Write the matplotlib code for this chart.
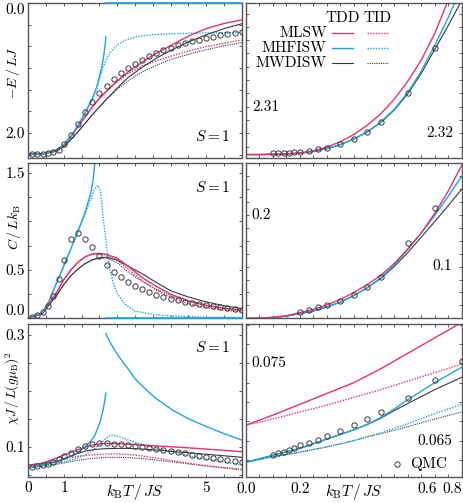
import matplotlib
matplotlib.use('Agg')
import matplotlib.pyplot as plt
from matplotlib.ticker import MultipleLocator, NullFormatter

plt.rcParams['font.family'] = 'serif'
plt.rcParams['font.serif'] = ['cmr10']
plt.rcParams['mathtext.fontset'] = 'cm'
plt.rcParams['axes.formatter.use_mathtext'] = True
plt.rcParams['font.size'] = 11

pink = '#e8336f'
blue = '#1fa6e0'
dark = '#3a3a3a'

# ---------------- left column (0 < T < 6) ----------------
t_left = [0, 0.4, 0.8, 1.0, 1.2, 1.4, 1.6, 1.8, 2.0, 2.2, 2.5, 2.8, 3.2, 3.6, 4.0, 4.5, 5.0, 5.5, 6.0]

# energy
e_mlsw_tdd = [2.325, 2.322, 2.27, 2.19, 2.05, 1.90, 1.75, 1.60, 1.47, 1.355, 1.20, 1.065, 0.91, 0.775, 0.655, 0.51, 0.395, 0.315, 0.26]
e_mlsw_tid = [2.325, 2.322, 2.27, 2.19, 2.05, 1.90, 1.75, 1.60, 1.47, 1.36, 1.21, 1.09, 0.97, 0.89, 0.82, 0.74, 0.67, 0.62, 0.57]
e_mwd_tdd = [2.325, 2.322, 2.28, 2.21, 2.10, 1.98, 1.85, 1.72, 1.60, 1.48, 1.31, 1.15, 0.99, 0.85, 0.73, 0.60, 0.49, 0.395, 0.32]
e_mwd_tid = [2.325, 2.322, 2.28, 2.21, 2.10, 1.98, 1.85, 1.72, 1.60, 1.48, 1.33, 1.20, 1.06, 0.96, 0.87, 0.79, 0.72, 0.66, 0.61]

t_hf_e = [0, 0.4, 0.8, 1.0, 1.2, 1.4, 1.6, 1.8, 1.92, 2.0, 2.06, 2.12, 2.16, 2.18]
e_mhf_tdd = [2.325, 2.322, 2.26, 2.18, 2.05, 1.88, 1.69, 1.47, 1.30, 1.13, 1.0, 0.82, 0.65, 0.52]
t_hf_e_hi = [2.18, 6.0]
e_mhf_tdd_hi = [0.0, 0.0]
t_hf_e_tid = [0, 0.4, 0.8, 1.0, 1.2, 1.4, 1.6, 1.8, 1.92, 2.0, 2.1, 2.2, 2.3, 2.4, 2.5, 2.7, 3.0, 3.4, 4.0, 5.0, 6.0]
e_mhf_tid = [2.325, 2.322, 2.26, 2.18, 2.05, 1.88, 1.69, 1.48, 1.33, 1.17, 0.99, 0.86, 0.77, 0.70, 0.65, 0.58, 0.525, 0.49, 0.475, 0.46, 0.455]

# specific heat
c_mlsw_tdd = [0, 0.05, 0.27, 0.40, 0.50, 0.58, 0.635, 0.665, 0.67, 0.66, 0.62, 0.54, 0.42, 0.33, 0.25, 0.18, 0.135, 0.105, 0.083]
c_mlsw_tid = [0, 0.05, 0.27, 0.40, 0.50, 0.58, 0.635, 0.66, 0.665, 0.65, 0.60, 0.51, 0.39, 0.29, 0.215, 0.15, 0.11, 0.085, 0.065]
c_mwd_tdd = [0, 0.05, 0.24, 0.35, 0.44, 0.51, 0.565, 0.605, 0.625, 0.63, 0.60, 0.54, 0.46, 0.37, 0.285, 0.22, 0.17, 0.13, 0.10]
c_mwd_tid = [0, 0.05, 0.24, 0.35, 0.44, 0.51, 0.565, 0.60, 0.62, 0.62, 0.575, 0.48, 0.38, 0.30, 0.235, 0.175, 0.13, 0.10, 0.077]

t_hf_c = [0, 0.4, 0.6, 0.8, 1.0, 1.2, 1.4, 1.6, 1.75, 1.82, 1.87, 1.92]
c_mhf_tdd = [0, 0.06, 0.19, 0.37, 0.54, 0.72, 0.90, 1.10, 1.28, 1.42, 1.60, 1.85]
t_hf_c_hi = [2.18, 6.0]
c_mhf_tdd_hi = [0.0, 0.0]
t_hf_c_tid = [0, 0.4, 0.6, 0.8, 1.0, 1.2, 1.4, 1.6, 1.75, 1.85, 1.95, 2.02, 2.06, 2.11, 2.2, 2.29, 2.4, 2.5, 2.7, 3.0, 3.5, 4.0, 5.0, 6.0]
c_mhf_tid = [0, 0.06, 0.19, 0.37, 0.54, 0.72, 0.90, 1.08, 1.22, 1.32, 1.37, 1.33, 1.22, 1.02, 0.75, 0.51, 0.35, 0.26, 0.15, 0.075, 0.04, 0.025, 0.012, 0.008]

# susceptibility
x_mlsw_tdd = [0.067, 0.0705, 0.0797, 0.085, 0.09, 0.095, 0.099, 0.103, 0.105, 0.106, 0.1055, 0.1045, 0.103, 0.1015, 0.10, 0.098, 0.0958, 0.0935, 0.091]
x_mlsw_tid = [0.067, 0.0695, 0.0749, 0.078, 0.0805, 0.083, 0.0845, 0.0855, 0.0862, 0.0868, 0.087, 0.0862, 0.0835, 0.0795, 0.0755, 0.0705, 0.066, 0.0625, 0.0592]
x_mwd_tdd = [0.0622, 0.0668, 0.0731, 0.078, 0.083, 0.088, 0.092, 0.0945, 0.0958, 0.0965, 0.097, 0.097, 0.0958, 0.094, 0.0918, 0.0892, 0.0865, 0.0838, 0.081]
x_mwd_tid = [0.0622, 0.0653, 0.0687, 0.071, 0.0735, 0.0757, 0.0775, 0.079, 0.08, 0.0808, 0.081, 0.0805, 0.0788, 0.076, 0.0732, 0.0692, 0.0655, 0.062, 0.0588]

t_hf_x = [0, 0.4, 0.8, 1.0, 1.2, 1.4, 1.55, 1.73, 1.87, 2.01, 2.1, 2.15, 2.18]
x_mhf_tdd = [0.0622, 0.0668, 0.0744, 0.0785, 0.083, 0.09, 0.098, 0.108, 0.12, 0.143, 0.165, 0.182, 0.196]
t_hf_x_hi = [2.18, 2.3, 2.45, 2.6, 2.8, 3.0, 3.3, 3.6, 4.07, 4.54, 5.01, 5.48, 6.0]
x_mhf_tdd_hi = [0.303, 0.287, 0.271, 0.257, 0.24, 0.222, 0.203, 0.186, 0.165, 0.149, 0.136, 0.124, 0.112]
t_hf_x_tid = [0, 0.4, 0.8, 1.0, 1.2, 1.4, 1.6, 1.8, 2.0, 2.2, 2.34, 2.5, 2.67, 3.0, 3.6, 4.0, 4.54, 5.0, 5.48, 6.0]
x_mhf_tid = [0.0622, 0.0653, 0.0696, 0.0725, 0.076, 0.08, 0.085, 0.093, 0.104, 0.116, 0.121, 0.119, 0.115, 0.108, 0.097, 0.0915, 0.0833, 0.078, 0.0731, 0.067]

# QMC (left)
tq_left = [0.1, 0.25, 0.4, 0.55, 0.7, 0.85, 1.0, 1.2, 1.4, 1.6, 1.8, 2.0, 2.2, 2.4, 2.6, 2.8, 3.0, 3.2,
           3.4, 3.6, 3.8, 4.0, 4.2, 4.4, 4.6, 4.8, 5.0, 5.2, 5.4, 5.6, 5.8, 6.0]
e_qmc = [2.325, 2.324, 2.32, 2.312, 2.296, 2.26, 2.17, 2.026, 1.857, 1.683, 1.528, 1.385, 1.272, 1.169, 1.077, 1.006,
         0.938, 0.877, 0.822, 0.769, 0.729, 0.688, 0.652, 0.622, 0.591, 0.565, 0.539, 0.518, 0.498, 0.477, 0.462, 0.452]
c_qmc = [0.01, 0.03, 0.07, 0.13, 0.23, 0.41, 0.60, 0.82, 0.88, 0.82, 0.74, 0.64, 0.555, 0.48, 0.425, 0.37,
         0.333, 0.298, 0.271, 0.244, 0.22, 0.203, 0.185, 0.169, 0.159, 0.144, 0.134, 0.124, 0.114, 0.103, 0.097, 0.09]
x_qmc = [0.0633, 0.0653, 0.0672, 0.0697, 0.073, 0.0775, 0.0825, 0.089, 0.0955, 0.101, 0.1045, 0.106, 0.106, 0.1054,
         0.1048, 0.103, 0.1018, 0.10, 0.098, 0.0963, 0.094, 0.0922, 0.0905, 0.088, 0.0857, 0.0838, 0.082, 0.0797,
         0.0778, 0.076, 0.0743, 0.073]

# ---------------- right column (0 < T < 0.8) ----------------
t_right = [0, 0.05, 0.1, 0.15, 0.2, 0.25, 0.3, 0.35, 0.4, 0.45, 0.5, 0.55, 0.6, 0.65, 0.7, 0.75, 0.8]

er_mlsw = [2.3280, 2.3280, 2.3279, 2.3277, 2.3274, 2.3266, 2.3252, 2.3232, 2.3205, 2.3170, 2.3127, 2.3072, 2.3005, 2.2925, 2.2825, 2.2700, 2.2560]
er_mwd = [2.3280, 2.3280, 2.3279, 2.3278, 2.3275, 2.3269, 2.3258, 2.3243, 2.3222, 2.3195, 2.3160, 2.3113, 2.3052, 2.2975, 2.2885, 2.2795, 2.2700]
er_mhf = [2.3280, 2.3280, 2.3279, 2.3278, 2.3275, 2.3269, 2.3258, 2.3243, 2.3222, 2.3195, 2.3158, 2.3110, 2.3047, 2.2967, 2.2870, 2.2765, 2.2650]

cr_mlsw = [0, 0.0002, 0.002, 0.005, 0.011, 0.017, 0.026, 0.036, 0.05, 0.065, 0.083, 0.106, 0.134, 0.165, 0.203, 0.246, 0.296]
cr_mhf = [0, 0.0002, 0.0015, 0.004, 0.009, 0.014, 0.022, 0.031, 0.044, 0.059, 0.078, 0.103, 0.133, 0.165, 0.199, 0.236, 0.275]
cr_mwd = [0, 0.0002, 0.0015, 0.004, 0.009, 0.014, 0.022, 0.031, 0.044, 0.059, 0.077, 0.10, 0.127, 0.157, 0.187, 0.218, 0.25]

xr_mlsw_tdd = [0.0670, 0.06765, 0.0683, 0.069, 0.0697, 0.0704, 0.0711, 0.0718, 0.0725, 0.0734, 0.0743, 0.0753, 0.0763, 0.0773, 0.0783, 0.0793, 0.0803]
xr_mlsw_tid = [0.0670, 0.0674, 0.0678, 0.06825, 0.0687, 0.06915, 0.0696, 0.0701, 0.0706, 0.0711, 0.0716, 0.07215, 0.0727, 0.07325, 0.0738, 0.07435, 0.0749]
xr_mhf_tdd = [0.0622, 0.06265, 0.0631, 0.06355, 0.0640, 0.0646, 0.0652, 0.0658, 0.0664, 0.0671, 0.0680, 0.0691, 0.0703, 0.0714, 0.0725, 0.0735, 0.0745]
xr_mwd_tdd = [0.0622, 0.06265, 0.0631, 0.06355, 0.0640, 0.0646, 0.0652, 0.0658, 0.0664, 0.0671, 0.0679, 0.0689, 0.0698, 0.0707, 0.0716, 0.0724, 0.0732]
xr_mhf_tid = [0.0622, 0.06255, 0.0629, 0.0632, 0.0635, 0.06385, 0.0642, 0.0646, 0.0650, 0.0655, 0.0660, 0.0666, 0.0672, 0.06785, 0.0685, 0.0691, 0.0697]
xr_mwd_tid = [0.0622, 0.06255, 0.0629, 0.0632, 0.0635, 0.06385, 0.0642, 0.0646, 0.0650, 0.0655, 0.0659, 0.06635, 0.0668, 0.0673, 0.0678, 0.06825, 0.0687]

tq_right = [0.1, 0.12, 0.14, 0.16, 0.18, 0.2, 0.233, 0.267, 0.3, 0.35, 0.4, 0.45, 0.5, 0.6, 0.7]
er_qmc = [2.3275, 2.3275, 2.3274, 2.3273, 2.3271, 2.3269, 2.3265, 2.3260, 2.3254, 2.3240, 2.3220, 2.3194, 2.3159, 2.3050, 2.2880]
tq_c = [0.2, 0.233, 0.267, 0.3, 0.35, 0.4, 0.45, 0.5, 0.6, 0.7]
cr_qmc = [0.012, 0.017, 0.021, 0.025, 0.033, 0.046, 0.061, 0.080, 0.146, 0.214]
tq_x = [0.1, 0.12, 0.14, 0.16, 0.18, 0.2, 0.233, 0.267, 0.3, 0.35, 0.4, 0.45, 0.5, 0.6, 0.7, 0.8]
xr_qmc = [0.06315, 0.06337, 0.06358, 0.0638, 0.06402, 0.06444, 0.06474, 0.06509, 0.06561, 0.06629, 0.06703, 0.0678,
          0.06867, 0.07056, 0.07284, 0.0753]

fig = plt.figure(figsize=(4.63, 5.03), dpi=100)

lx, lw_ = 0.0611, 0.4609
rx, rw = 0.5307, 0.4665
rows = [(0.6859, 0.3082), (0.3672, 0.3082), (0.0517, 0.3042)]

axes = []
for (y0, h) in rows:
    a1 = fig.add_axes([lx, y0, lw_, h])
    a2 = fig.add_axes([rx, y0, rw, h])
    axes.append((a1, a2))

solid = dict(lw=1.0)
dotted = dict(lw=1.0, ls=(0, (1, 1)))
qmc_style = dict(ls='none', marker='o', ms=3.8, mfc='none', mec=dark, mew=0.7, zorder=4)


def style(ax):
    for s in ax.spines.values():
        s.set_color('#555555')
        s.set_linewidth(1.0)
    ax.tick_params(which='both', direction='in', top=True, right=True, length=2.5,
                   width=0.6, color='#444444', pad=2.5, labelsize=11)


# ---- top left: energy
ax = axes[0][0]
ax.plot(t_left, e_mwd_tid, color=dark, lw=0.8, ls=(0, (1, 1)))
ax.plot(t_left, e_mlsw_tid, color=pink, **dotted)
ax.plot(t_hf_e_tid, e_mhf_tid, color=blue, **dotted)
ax.plot(t_left, e_mwd_tdd, color=dark, lw=0.8)
ax.plot(t_left, e_mlsw_tdd, color=pink, **solid)
ax.plot(t_hf_e, e_mhf_tdd, color=blue, **solid)
ax.plot(t_hf_e_hi, e_mhf_tdd_hi, color=blue, lw=1.2, clip_on=False, zorder=5)
ax.plot(tq_left, e_qmc, **qmc_style)
ax.set_xlim(0, 6)
ax.set_ylim(2.385, 0)
ax.set_yticks([0, 1, 2], ['0.0', '', '2.0'])
ax.yaxis.set_minor_locator(MultipleLocator(1 / 3))
ax.get_yticklabels()[0].set_va('top')
ax.set_ylabel(r'$-E\,/\,LJ$', fontsize=10)
ax.yaxis.set_label_coords(-0.03, 0.55)
ax.text(0.945, 0.137, r'$S=1$', transform=ax.transAxes, ha='right', va='center')

# ---- middle left: specific heat
ax = axes[1][0]
ax.plot(t_left, c_mwd_tid, color=dark, lw=0.8, ls=(0, (1, 1)))
ax.plot(t_left, c_mlsw_tid, color=pink, **dotted)
ax.plot(t_hf_c_tid, c_mhf_tid, color=blue, **dotted)
ax.plot(t_left, c_mwd_tdd, color=dark, lw=0.8)
ax.plot(t_left, c_mlsw_tdd, color=pink, **solid)
ax.plot(t_hf_c, c_mhf_tdd, color=blue, **solid)
ax.plot(t_hf_c_hi, c_mhf_tdd_hi, color=blue, lw=1.2, clip_on=False, zorder=5)
ax.plot(tq_left, c_qmc, **qmc_style)
ax.set_xlim(0, 6)
ax.set_ylim(0, 1.6)
ax.set_yticks([0, 0.5, 1.0, 1.5], ['0.0', '0.5', '', '1.5'])
ax.yaxis.set_minor_locator(MultipleLocator(0.25))
ax.get_yticklabels()[0].set_va('bottom')
ax.set_ylabel(r'$C\,/\,Lk_{\rm B}$', fontsize=10)
ax.yaxis.set_label_coords(-0.023, 0.59)
ax.text(0.945, 0.845, r'$S=1$', transform=ax.transAxes, ha='right', va='center')

# ---- bottom left: susceptibility
ax = axes[2][0]
ax.plot(t_left, x_mwd_tid, color=dark, lw=0.8, ls=(0, (1, 1)))
ax.plot(t_left, x_mlsw_tid, color=pink, **dotted)
ax.plot(t_hf_x_tid, x_mhf_tid, color=blue, **dotted)
ax.plot(t_left, x_mwd_tdd, color=dark, lw=0.8)
ax.plot(t_left, x_mlsw_tdd, color=pink, **solid)
ax.plot(t_hf_x, x_mhf_tdd, color=blue, **solid)
ax.plot(t_hf_x_hi, x_mhf_tdd_hi, color=blue, **solid)
ax.plot(tq_left, x_qmc, **qmc_style)
ax.set_xlim(0, 6)
ax.set_ylim(0.0457, 0.32)
ax.set_yticks([0.1, 0.2, 0.3], ['0.1', '', '0.3'])
ax.yaxis.set_minor_locator(MultipleLocator(0.05))
ax.set_ylabel(r'$\chi J\,/\,L(g\mu_{\rm B})^2$', fontsize=9.5)
ax.yaxis.set_label_coords(-0.031, 0.58)
ax.text(0.945, 0.845, r'$S=1$', transform=ax.transAxes, ha='right', va='center')

for i in range(3):
    ax = axes[i][0]
    ax.set_xticks([0, 1, 5])
    ax.xaxis.set_minor_locator(MultipleLocator(0.5))
    if i < 2:
        ax.xaxis.set_major_formatter(NullFormatter())
    style(ax)
axes[2][0].set_xlabel(r'$k_{\rm B}T\,/\,JS$', fontsize=11)
axes[2][0].xaxis.set_label_coords(0.5, -0.03)

# ---- top right
ax = axes[0][1]
ax.plot(t_right, er_mwd, color=dark, lw=0.8)
ax.plot(t_right, er_mhf, color=blue, **solid)
ax.plot(t_right, er_mlsw, color=pink, **solid)
ax.plot(tq_right, er_qmc, **qmc_style)
ax.set_ylim(2.3293, 2.271)
ax.set_yticks([2.28, 2.29, 2.30, 2.31, 2.32])
ax.yaxis.set_minor_locator(MultipleLocator(0.005))
ax.text(0.028, 2.31, '2.31', transform=ax.get_yaxis_transform(), ha='left', va='center')
ax.text(0.961, 2.32, '2.32', transform=ax.get_yaxis_transform(), ha='right', va='center')

# legend
ax.text(0.448, 0.901, 'TDD', transform=ax.transAxes, ha='center', va='center')
ax.text(0.61, 0.901, 'TID', transform=ax.transAxes, ha='center', va='center')
models = ['MLSW', 'MHFISW', 'MWDISW']
model_colors = [pink, blue, dark]
model_lw = [1.0, 1.0, 0.8]
for k in range(3):
    yy = 0.805 - 0.097 * k
    ax.text(0.375, yy, models[k], transform=ax.transAxes, ha='right', va='center')
    ax.plot([0.398, 0.498], [yy, yy], color=model_colors[k], lw=model_lw[k], transform=ax.transAxes)
    ax.plot([0.56, 0.66], [yy, yy], color=model_colors[k], lw=model_lw[k], ls=(0, (1, 1)),
            transform=ax.transAxes)

# ---- middle right
ax = axes[1][1]
ax.plot(t_right, cr_mwd, color=dark, lw=0.8)
ax.plot(t_right, cr_mhf, color=blue, **solid)
ax.plot(t_right, cr_mlsw, color=pink, **solid)
ax.plot(tq_c, cr_qmc, **qmc_style)
ax.set_ylim(0, 0.3)
ax.set_yticks([0.1, 0.2])
ax.yaxis.set_minor_locator(MultipleLocator(0.025))
ax.text(0.028, 0.2, '0.2', transform=ax.get_yaxis_transform(), ha='left', va='center')
ax.text(0.954, 0.1, '0.1', transform=ax.get_yaxis_transform(), ha='right', va='center')

# ---- bottom right
ax = axes[2][1]
ax.plot(t_right, xr_mwd_tid, color=dark, lw=0.8, ls=(0, (1, 1)))
ax.plot(t_right, xr_mhf_tid, color=blue, **dotted)
ax.plot(t_right, xr_mlsw_tid, color=pink, **dotted)
ax.plot(t_right, xr_mwd_tdd, color=dark, lw=0.8)
ax.plot(t_right, xr_mhf_tdd, color=blue, **solid)
ax.plot(t_right, xr_mlsw_tdd, color=pink, **solid)
ax.plot(tq_x, xr_qmc, **qmc_style)
ax.set_ylim(0.0603, 0.0801)
ax.set_yticks([0.065, 0.070, 0.075, 0.080])
ax.yaxis.set_minor_locator(MultipleLocator(0.0025))
ax.text(0.028, 0.075, '0.075', transform=ax.get_yaxis_transform(), ha='left', va='center')
ax.text(0.954, 0.065, '0.065', transform=ax.get_yaxis_transform(), ha='right', va='center')
ax.plot([0.699], [0.083], transform=ax.transAxes, **qmc_style)
ax.text(0.76, 0.083, 'QMC', transform=ax.transAxes, ha='left', va='center')

for i in range(3):
    ax = axes[i][1]
    ax.set_xlim(0, 0.8)
    ax.set_xticks([0, 0.2, 0.4, 0.6, 0.8])
    ax.xaxis.set_minor_locator(MultipleLocator(0.05))
    ax.xaxis.set_major_formatter(NullFormatter())
    ax.yaxis.set_major_formatter(NullFormatter())
    style(ax)

ax = axes[2][1]
xt = ax.get_xaxis_transform()
ax.text(0.0, -0.035, '0.0', transform=xt, ha='center', va='top')
ax.text(0.2, -0.035, '0.2', transform=xt, ha='center', va='top')
ax.text(0.672, -0.035, '0.6', transform=xt, ha='center', va='top')
ax.text(0.8, -0.035, '0.8', transform=xt, ha='right', va='top')
ax.set_xlabel(r'$k_{\rm B}T\,/\,JS$', fontsize=11)
ax.xaxis.set_label_coords(0.5, -0.03)

fig.savefig('out.png', dpi=100)
